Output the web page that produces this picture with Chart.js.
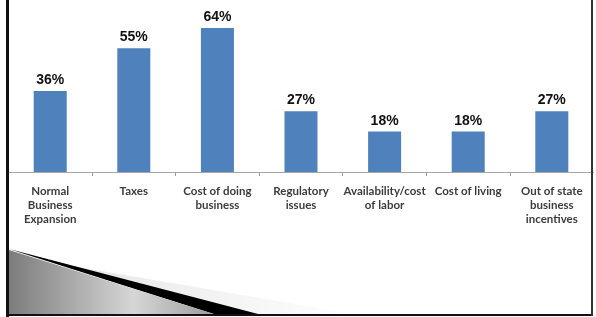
<!DOCTYPE html>
<html>
<head>
<meta charset="utf-8">
<script src="https://cdn.jsdelivr.net/npm/chart.js@4/dist/chart.umd.min.js"></script>
<style>
  html, body { margin: 0; padding: 0; background: #fff; }
  #wrap { width: 596px; height: 317px; position: relative; }
</style>
</head>
<body>
<div id="wrap"><canvas id="chart" width="596" height="317"></canvas></div>
<script>
// categorias e valores
const CATEGORIES = [
  ["Normal", "Business", "Expansion"],
  "Taxes",
  ["Cost of doing", "business"],
  ["Regulatory", "issues"],
  ["Availability/cost", "of labor"],
  "Cost of living",
  ["Out of state", "business", "incentives"]
];
const VALUES = [36, 55, 64, 27, 18, 18, 27];
const VALUE_LABELS = ["36%", "55%", "64%", "27%", "18%", "18%", "27%"];

const LABEL_FONT = "Lato, 'Liberation Sans', sans-serif";
const VALUE_FONT = "'Liberation Sans', Arial, sans-serif";

// rótulos de valor em cima das barras
const valueLabels = {
  id: "valueLabels",
  afterDatasetsDraw(chart) {
    const ctx = chart.ctx;
    const meta = chart.getDatasetMeta(0);
    ctx.save();
    ctx.font = "bold 14px " + VALUE_FONT;
    ctx.fillStyle = "#111";
    ctx.textAlign = "center";
    ctx.textBaseline = "alphabetic";
    meta.data.forEach((bar, i) => {
      ctx.fillText(VALUE_LABELS[i], bar.x, bar.y - 7);
    });
    ctx.restore();
  }
};

// moldura do slide e o enfeite no canto de baixo
const slideFrame = {
  id: "slideFrame",
  afterDraw(chart) {
    const ctx = chart.ctx;
    ctx.save();

    // faixa clara
    ctx.beginPath();
    ctx.moveTo(60, 264);
    ctx.lineTo(360, 315);
    ctx.lineTo(262, 315);
    ctx.closePath();
    const lg = ctx.createLinearGradient(60, 0, 360, 0);
    lg.addColorStop(0, "#e6e6e6");
    lg.addColorStop(1, "#ffffff");
    ctx.fillStyle = lg;
    ctx.fill();

    // faixa preta
    ctx.beginPath();
    ctx.moveTo(9, 249);
    ctx.lineTo(262, 315);
    ctx.lineTo(217, 315);
    ctx.closePath();
    ctx.fillStyle = "#000";
    ctx.fill();

    // triângulo cinza
    ctx.beginPath();
    ctx.moveTo(9, 250);
    ctx.lineTo(217, 315);
    ctx.lineTo(9, 315);
    ctx.closePath();
    const g = ctx.createLinearGradient(9, 0, 217, 0);
    g.addColorStop(0, "#7c7c7c");
    g.addColorStop(0.6, "#d6d6d6");
    g.addColorStop(1, "#9a9a9a");
    ctx.fillStyle = g;
    ctx.fill();

    // bordas
    ctx.fillStyle = "#111";
    ctx.fillRect(6, 0, 3, 317);
    ctx.fillRect(6, 314, 587, 2);
    ctx.fillStyle = "#333";
    ctx.fillRect(591, 0, 2, 316);
    ctx.restore();
  }
};

new Chart(document.getElementById("chart"), {
  type: "bar",
  data: {
    labels: CATEGORIES,
    datasets: [{
      data: VALUES,
      backgroundColor: "#4F81BD",
      borderWidth: 0,
      barPercentage: 0.395,
      categoryPercentage: 1
    }]
  },
  options: {
    responsive: false,
    animation: false,
    layout: { padding: { left: 8.4, right: 2.4, top: 10, bottom: 0 } },
    plugins: {
      legend: { display: false },
      tooltip: { enabled: false }
    },
    scales: {
      y: { display: false, min: 0, max: 72 },
      x: {
        afterFit: (scale) => { scale.height = 145; },
        grid: {
          drawOnChartArea: false,
          drawTicks: true,
          tickLength: 4,
          color: (c) => (c.index === 0 || c.index === undefined) ? "rgba(0,0,0,0)" : "#999"
        },
        border: { display: true, color: "#a6a6a6", width: 1 },
        ticks: {
          padding: 9,
          color: "#3c3c3c",
          font: { family: LABEL_FONT, size: 11.5, weight: "bold", lineHeight: 1.18 },
          maxRotation: 0,
          autoSkip: false
        }
      }
    }
  },
  plugins: [valueLabels, slideFrame]
});
</script>
</body>
</html>
